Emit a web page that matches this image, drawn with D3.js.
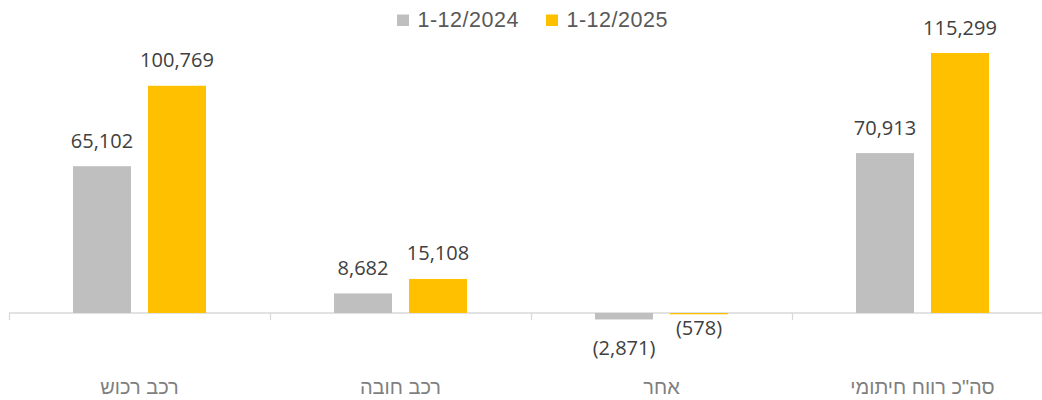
<!DOCTYPE html>
<html>
<head>
<meta charset="utf-8">
<script src="https://cdn.jsdelivr.net/npm/d3@7"></script>
<style>
  html, body { margin: 0; padding: 0; background: #fff; }
  svg { display: block; }
</style>
</head>
<body>
<svg id="chart" width="1042" height="400"></svg>
<script>
const categories = ["רכב רכוש", "רכב חובה", "אחר", "סה\"כ רווח חיתומי"];
const seriesNames = ["1-12/2024", "1-12/2025"];
const values2024 = [65102, 8682, -2871, 70913];
const values2025 = [100769, 15108, -578, 115299];
const seriesColors = ["#BFBFBF", "#FFC000"];

const seriesValues = [values2024, values2025];
const svg = d3.select("#chart");
const W = 1042, H = 400;

const x = d3.scaleBand().domain(categories).range([9, 1053]).padding(0);
const xs = d3.scaleBand().domain(seriesNames).range([0, x.bandwidth()])
  .paddingInner(0.2267).paddingOuter(0.853);
const y = d3.scaleLinear().domain([0, 120000]).range([313, 42.4]);

const fmt = d3.format(",");
const labelText = v => v < 0 ? "(" + fmt(-v) + ")" : fmt(v);

// axis line and ticks
const axis = d3.axisBottom(x).tickSize(0).tickFormat("");
const gAxis = svg.append("g").attr("transform", `translate(0,${y(0)})`).call(axis);
gAxis.select(".domain").remove();
svg.append("line").attr("x1", 9).attr("x2", W).attr("y1", y(0)).attr("y2", y(0))
  .attr("stroke", "#D9D9D9").attr("stroke-width", 1.3);
const tickPositions = categories.map(c => x(c));
svg.selectAll("line.tick").data(tickPositions).enter().append("line")
  .attr("class", "tick")
  .attr("x1", d => Math.round(d) + 0.5).attr("x2", d => Math.round(d) + 0.5)
  .attr("y1", y(0)).attr("y2", y(0) + 7)
  .attr("stroke", "#D9D9D9").attr("stroke-width", 1.3);

// bars
const rows = [];
categories.forEach((c, i) => {
  seriesNames.forEach((s, j) => rows.push({ cat: c, series: s, si: j, value: seriesValues[j][i] }));
});

svg.append("g").selectAll("rect").data(rows).enter().append("rect")
  .attr("x", d => x(d.cat) + xs(d.series))
  .attr("width", xs.bandwidth())
  .attr("y", d => Math.min(y(d.value), y(0)))
  .attr("height", d => Math.abs(y(d.value) - y(0)))
  .attr("fill", d => seriesColors[d.si]);

// label positions
rows.forEach(d => {
  d.lx = x(d.cat) + xs(d.series) + xs.bandwidth() / 2;
  d.ly = d.value >= 0 ? y(d.value) - 18.5 : y(d.value) + 21;
});
// resolve overlap of negative labels in the same category
categories.forEach(c => {
  const negs = rows.filter(r => r.cat === c && r.value < 0).sort((a, b) => b.value - a.value);
  for (let k = 1; k < negs.length; k++) {
    if (negs[k].ly - negs[k - 1].ly < 20) negs[k].ly = negs[k - 1].ly + 20;
  }
});

svg.append("g").selectAll("text").data(rows).enter().append("text")
  .attr("x", d => d.lx).attr("y", d => d.ly)
  .attr("text-anchor", "middle")
  .attr("font-family", "'Open Sans', sans-serif")
  .attr("font-size", 20)
  .attr("fill", "#404040")
  .text(d => labelText(d.value));

// category labels
svg.append("g").selectAll("text").data(categories).enter().append("text")
  .attr("x", d => x(d) + x.bandwidth() / 2)
  .attr("y", 394)
  .attr("text-anchor", "middle")
  .attr("direction", "rtl")
  .attr("font-family", "'Liberation Sans', Arial, sans-serif")
  .attr("font-size", 20)
  .attr("fill", "#7F7F7F")
  .text(d => d);

// legend
const legendX = [397, 546];
const lg = svg.append("g").selectAll("g").data(seriesNames).enter().append("g")
  .attr("transform", (d, i) => `translate(${legendX[i]},0)`);
lg.append("rect").attr("x", 0).attr("y", 14.5).attr("width", 12).attr("height", 11.5)
  .attr("fill", (d, i) => seriesColors[i]);
lg.append("text").attr("x", 20.5).attr("y", 26.7)
  .attr("font-family", "'Liberation Sans', Arial, sans-serif")
  .attr("font-size", 21.5)
  .attr("letter-spacing", 0.5)
  .attr("fill", "#595959")
  .text(d => d);
</script>
</body>
</html>
